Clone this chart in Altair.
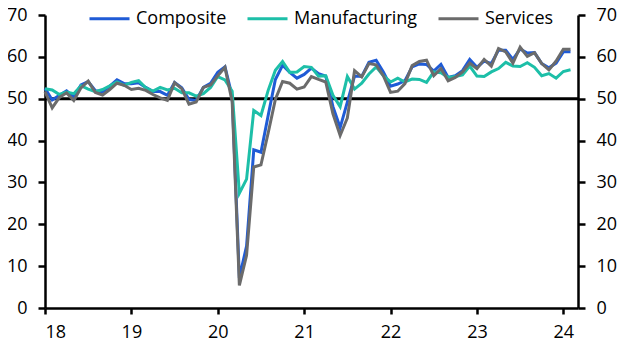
import altair as alt
import pandas as pd

months = pd.date_range("2018-01-01", periods=74, freq="MS")

composite = [
    52.5, 49.7, 50.8, 51.9, 50.4, 53.3, 54.1, 51.9, 51.6, 53.0, 54.5, 53.6,
    53.6, 53.8, 52.7, 51.7, 51.7, 50.8, 53.9, 52.6, 49.8, 49.6, 52.7, 53.7,
    56.3, 57.6, 50.6, 7.2, 14.8, 37.8, 37.2, 46.0, 54.6, 58.0, 56.3, 54.9,
    55.8, 57.3, 56.0, 55.4, 48.1, 43.1, 49.2, 55.4, 55.3, 58.7, 59.2, 56.4,
    53.0, 53.5, 54.3, 57.6, 58.3, 58.2, 56.6, 58.2, 55.1, 55.5, 56.7, 59.4,
    57.5, 59.0, 58.4, 61.6, 61.6, 59.4, 61.9, 60.9, 61.0, 58.4, 57.4, 58.5,
    61.2, 61.2,
]
manufacturing = [
    52.4, 52.1, 51.0, 51.6, 51.2, 53.1, 52.3, 51.7, 52.2, 53.1, 54.0, 53.2,
    53.9, 54.3, 52.6, 51.8, 52.7, 52.1, 52.5, 51.4, 51.4, 50.6, 51.2, 52.7,
    55.3, 54.5, 51.8, 27.4, 30.8, 47.2, 46.0, 52.0, 56.8, 58.9, 56.3, 56.4,
    57.7, 57.5, 55.4, 55.5, 50.8, 48.1, 55.3, 52.3, 53.7, 55.9, 57.6, 55.5,
    54.0, 54.9, 54.0, 54.7, 54.6, 53.9, 56.4, 56.2, 55.1, 55.3, 55.7, 57.8,
    55.4, 55.3, 56.4, 57.2, 58.7, 57.8, 57.7, 58.6, 57.5, 55.5, 56.0, 54.9,
    56.5, 56.9,
]
services = [
    51.7, 47.8, 50.3, 51.4, 49.6, 52.6, 54.2, 51.5, 50.9, 52.2, 53.7, 53.2,
    52.2, 52.5, 52.0, 51.0, 50.2, 49.6, 53.8, 52.4, 48.7, 49.2, 52.7, 53.3,
    55.5, 57.5, 49.3, 5.4, 12.6, 33.7, 34.2, 41.8, 49.8, 54.1, 53.7, 52.3,
    52.8, 55.3, 54.6, 54.0, 46.4, 41.2, 45.4, 56.7, 55.2, 58.4, 58.1, 55.5,
    51.5, 51.8, 53.6, 57.9, 58.9, 59.2, 55.5, 57.2, 54.3, 55.1, 56.4, 58.5,
    57.2, 59.4, 57.8, 62.0, 61.2, 58.5, 62.3, 60.1, 61.0, 58.4, 56.9, 59.0,
    61.8, 61.8,
]

series_names = ["Composite", "Manufacturing", "Services"]
series_colors = ["#1F5BD6", "#1DBFA8", "#6B6B6B"]
year_ticks = [2018, 2019, 2020, 2021, 2022, 2023, 2024]
y_ticks = [0, 10, 20, 30, 40, 50, 60, 70]
threshold = [50]

rows = []
for name, vals in zip(series_names, [composite, manufacturing, services]):
    for d, v in zip(months, vals):
        rows.append({"t": d.year + (d.month - 1) / 12, "series": name, "value": v})
df = pd.DataFrame(rows)

FONT = "Open Sans"

x_enc = alt.X(
    "t:Q",
    title=None,
    scale=alt.Scale(domain=[2018, 2024.17], nice=False, zero=False),
    axis=alt.Axis(values=year_ticks, labelExpr="format(datum.value - 2000, 'd')",
                  tickSize=6, labelPadding=9, grid=False),
)
y_scale = alt.Scale(domain=[0, 70], nice=False)

rule = alt.Chart(pd.DataFrame({"y": threshold})).mark_rule(color="black", strokeWidth=3).encode(
    y=alt.Y("y:Q", scale=y_scale, title=None,
            axis=alt.Axis(orient="right", values=y_ticks, tickSize=7, labelPadding=11, grid=False))
)

lines = alt.Chart(df).mark_line(strokeWidth=3).encode(
    x=x_enc,
    y=alt.Y("value:Q", scale=y_scale, title=None,
            axis=alt.Axis(orient="left", values=y_ticks, tickSize=7, labelPadding=11, grid=False)),
    color=alt.Color(
        "series:N",
        scale=alt.Scale(domain=series_names, range=series_colors),
        sort=series_names,
        legend=alt.Legend(
            title=None, orient="none", direction="horizontal",
            legendX=43, legendY=-18,
            symbolType="stroke", symbolSize=1600, symbolStrokeWidth=3,
            labelFont=FONT, labelFontSize=18, labelColor="black",
            labelOffset=5, columnPadding=14,
        ),
    ),
)

chart = alt.layer(rule, lines).resolve_axis(y="independent").properties(
    width=533, height=293,
    autosize="none",
    padding={"left": 37, "top": 7, "right": 45, "bottom": 40},
).configure_view(stroke=None).configure_axis(
    domainColor="black", domainWidth=2.5, tickColor="black", tickWidth=2.5,
    labelColor="black", labelFont=FONT, labelFontSize=18,
)

chart.save("out.html", embed_options={"renderer": "svg", "actions": False})
